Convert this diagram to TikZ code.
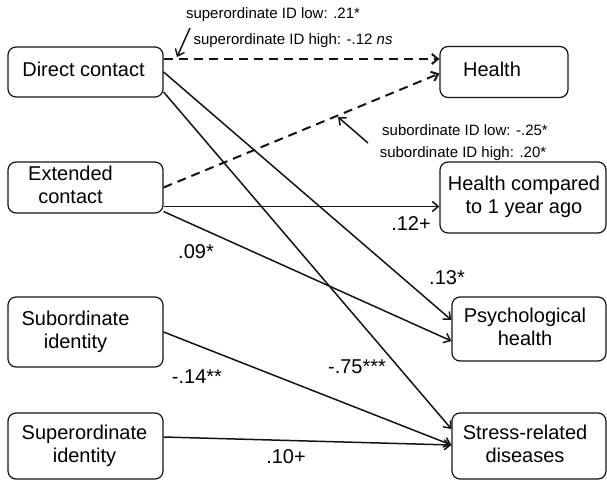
\documentclass[tikz,border=0pt]{standalone}
\usepackage{fontspec}
\setmainfont{Liberation Sans}
\usepackage{tikz}
\usepackage{xcolor}
\usetikzlibrary{arrows.meta,calc}
\newcommand{\boxlines}[2]{\hspace*{#1}\begin{tabular}{@{}c@{}}#2\end{tabular}}
\colorlet{pathLine}{black!92}
\tikzset{
  pathbox/.style={
    rectangle, rounded corners=8pt, draw=pathLine, line width=1.2pt,
    inner sep=0pt, font=\fontsize{20}{23}\selectfont
  },
  patharrow/.style={-{Straight Barb[length=6pt,width=10pt]}, line width=1.5pt, draw=pathLine},
  pathdash/.style={-{Straight Barb[length=6pt,width=10pt]}, line width=2pt,
    dash pattern=on 9pt off 6pt, draw=pathLine},
  pathpoint/.style={-{Straight Barb[length=6pt,width=10pt]}, line width=1.5pt, draw=pathLine},
  pathnote/.style={font=\fontsize{15}{18}\selectfont, inner sep=0pt},
  pathcoef/.style={font=\fontsize{20}{23}\selectfont, inner sep=0pt}
}
\begin{document}
\begin{tikzpicture}[x=1pt,y=1pt]
  \useasboundingbox (0,0) rectangle (607,480);
  \node[pathbox, minimum width=155pt, minimum height=50pt] (direct) at (85.5,408)
    {\boxlines{-4pt}{Direct contact}};
  \node[pathbox, minimum width=155pt, minimum height=51pt] (extended) at (85.5,292.5)
    {\boxlines{-30pt}{Extended\\contact}};
  \node[pathbox, minimum width=155pt, minimum height=70pt] (subid) at (85.5,148)
    {\boxlines{-20pt}{Subordinate\\identity}};
  \node[pathbox, minimum width=155pt, minimum height=66pt] (supid) at (85.5,34)
    {\boxlines{-2pt}{Superordinate\\identity}};
  \node[pathbox, minimum width=128pt, minimum height=51pt] (health) at (504,408)
    {\boxlines{-24pt}{Health}};
  \node[pathbox, minimum width=166pt, minimum height=71pt] (healthcmp) at (523,282.5)
    {\boxlines{2pt}{Health compared\\to 1 year ago}};
  \node[pathbox, minimum width=154pt, minimum height=64pt] (psych) at (529,151)
    {\boxlines{-8pt}{Psychological\\health}};
  \node[pathbox, minimum width=154pt, minimum height=66pt] (stress) at (529,34)
    {\boxlines{-8pt}{Stress-related\\diseases}};

  \draw[pathdash] ($(direct.east)+(0,13)$) -- ($(health.west)+(0,13)$);
  \draw[pathdash] (extended.east) -- ($(health.west)+(0,-1.5)$);
  \draw[patharrow] ($(extended.east)+(0,-19)$) -- ($(healthcmp.west)+(0,-9)$);
  \draw[patharrow] (direct.east) -- ($(psych.west)+(0,9)$);
  \draw[patharrow] ($(extended.east)+(0,-24)$) -- ($(psych.west)+(0,-12)$);
  \draw[patharrow] ($(direct.east)+(0,-20)$) -- ($(stress.west)+(0,17)$);
  \draw[patharrow] (subid.east) -- ($(stress.west)+(0,1)$);
  \draw[patharrow] ($(supid.east)+(0,9)$) -- ($(stress.west)+(0,1)$);

  \node[pathnote] (suplow) at (273,465) {superordinate ID low: .21*};
  \node[pathnote] (suphigh) at (293,439) {superordinate ID high: -.12 \textit{ns}};
  \node[pathnote] (sublow) at (465,350) {subordinate ID low: -.25*};
  \node[pathnote] (subhigh) at (463,326) {subordinate ID high: .20*};
  \coordinate (suptail) at (190,452);
  \coordinate (suphead) at (177,423);
  \coordinate (subtail) at (368,337);
  \coordinate (subhead) at (338,363);
  \draw[pathpoint] (suptail) -- (suphead);
  \draw[pathpoint] (subtail) -- (subhead);

  \node[pathcoef] (cext) at (196,228) {.09*};
  \node[pathcoef] (ccmp) at (411,256) {.12+};
  \node[pathcoef] (cpsy) at (447,202) {.13*};
  \node[pathcoef] (cstr) at (357,113) {-.75***};
  \node[pathcoef] (csub) at (197,103) {-.14**};
  \node[pathcoef] (csup) at (286,23) {.10+};
\end{tikzpicture}
\end{document}
